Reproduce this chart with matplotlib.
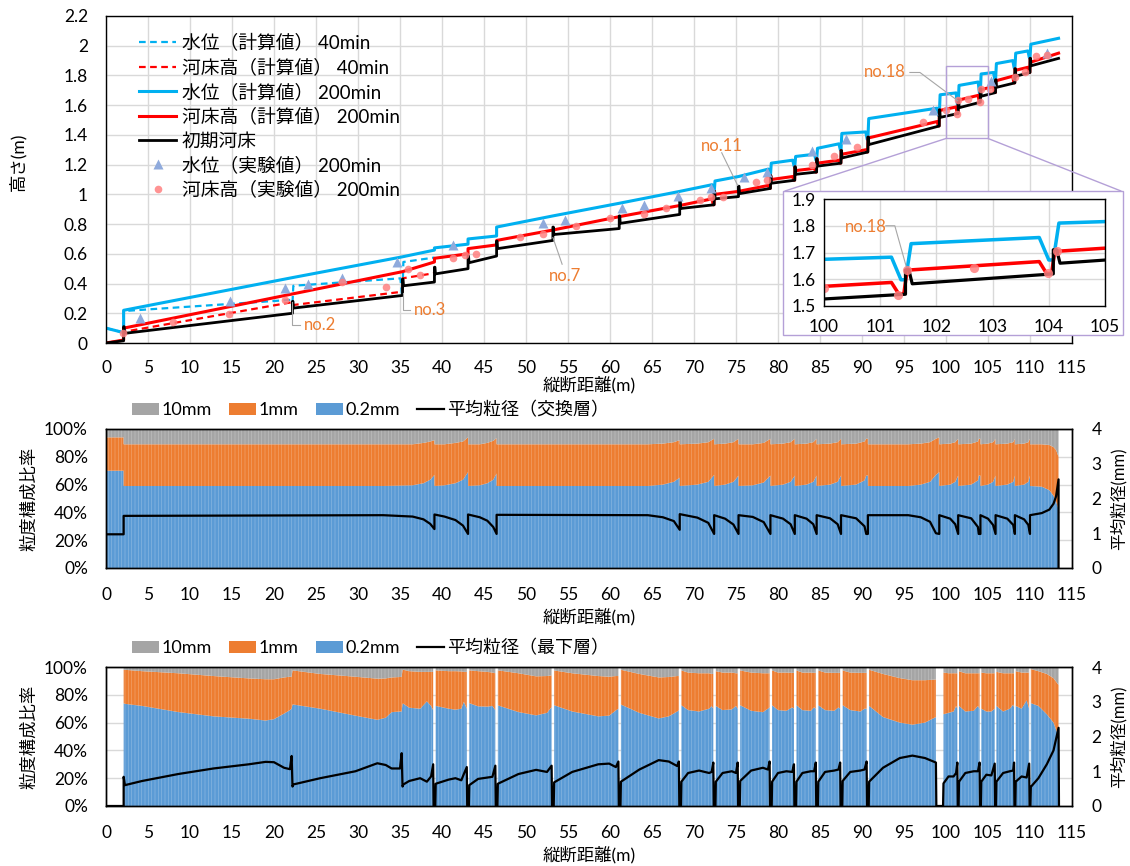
import numpy as np
import matplotlib
matplotlib.use("Agg")
import matplotlib.pyplot as plt
from matplotlib.patches import Rectangle, Patch, ConnectionPatch
from matplotlib.lines import Line2D
from matplotlib.ticker import FuncFormatter, PercentFormatter, MultipleLocator

plt.rcParams['font.family'] = ['Lato', 'Noto Sans CJK JP', 'DejaVu Sans']
plt.rcParams['hatch.linewidth'] = 0.5

NaN = np.nan

# ---------------------------------------------------------------- profile data
# drop structures (weirs) along the flume [m]
weir_x = [2.1, 22.2, 35.3, 39.1, 43.1, 46.5, 53.2, 61.1, 68.3, 72.4, 75.3,
          79.1, 82.0, 84.6, 87.5, 90.7, 99.2, 101.45, 104.08, 105.9, 108.2, 110.0]
flume_end = 113.4

# initial bed: level at start / end of each pool, crest of each weir [m]
bed0_start = [0.00, 0.065, 0.235, 0.385, 0.465, 0.54, 0.635, 0.73, 0.805, 0.905, 0.97,
              1.005, 1.075, 1.135, 1.19, 1.245, 1.335, 1.518, 1.583, 1.66, 1.72, 1.795, 1.865]
bed0_end = [0.015, 0.20, 0.32, 0.41, 0.50, 0.585, 0.69, 0.77, 0.865, 0.93, 0.985,
            1.04, 1.095, 1.15, 1.21, 1.285, 1.46, 1.544, 1.62, 1.685, 1.75, 1.82, 1.915]
bed0_crest = [0.11, 0.28, 0.43, 0.51, 0.585, 0.685, 0.78, 0.855, 0.955, 1.02, 1.055,
              1.125, 1.185, 1.24, 1.295, 1.385, 1.568, 1.635, 1.71, 1.77, 1.845, 1.915]

# computed bed, 200 min
bed200_start = [0.00, 0.10, 0.33, 0.48, 0.57, 0.635, 0.69, 0.76, 0.85, 0.925, 1.00,
                1.02, 1.10, 1.16, 1.21, 1.27, 1.38, 1.565, 1.635, 1.705, 1.765, 1.835, 1.89]
bed200_end = [0.02, 0.33, 0.48, 0.545, 0.60, 0.66, 0.76, 0.85, 0.925, 0.97, 1.02,
              1.06, 1.12, 1.175, 1.23, 1.30, 1.49, 1.588, 1.666, 1.725, 1.795, 1.855, 1.95]
bed200_scour = [None, None, None, None, None, None, None, None, None, 0.93, None,
                1.04, 1.095, 1.15, 1.21, 1.285, 1.46, 1.545, 1.622, 1.685, 1.75, 1.82]

# computed water level, 200 min
wl200_start = [0.10, 0.22, 0.44, 0.58, 0.64, 0.70, 0.78, 0.855, 0.94, 1.02, 1.09,
               1.12, 1.21, 1.255, 1.31, 1.41, 1.51, 1.67, 1.733, 1.81, 1.88, 1.95, 2.01]
wl200_end = [0.07, 0.44, 0.58, 0.625, 0.665, 0.72, 0.855, 0.94, 1.02, 1.065, 1.12,
             1.17, 1.23, 1.27, 1.34, 1.42, 1.58, 1.6825, 1.756, 1.82, 1.90, 1.965, 2.05]
wl200_dip = [None, None, None, None, None, None, None, None, None, 1.01, None,
             1.13, 1.19, 1.23, 1.30, 1.37, 1.53, 1.598, 1.672, 1.77, 1.85, 1.92]

# computed water level and bed, 40 min (downstream reach)
wl40_start = [0.10, 0.215, 0.385, 0.545]
wl40_end = [0.07, 0.29, 0.435, 0.575]
wl40_dip = [None, 0.27, 0.335]
bed40_start = [0.00, 0.075, 0.255, 0.435]
bed40_end = [0.02, 0.275, 0.345, 0.47]

# measured, 200 min
obs_wl_x = [4.0, 14.8, 21.3, 24.1, 28.1, 34.6, 41.3, 52.0, 54.6, 61.4, 64.0, 68.1,
            72.0, 76.0, 78.7, 84.0, 88.1, 98.5, 105.4, 112.0]
obs_wl = [0.17, 0.28, 0.37, 0.40, 0.44, 0.545, 0.66, 0.81, 0.825, 0.91, 0.93, 0.99,
          1.04, 1.12, 1.15, 1.295, 1.375, 1.57, 1.765, 1.95]
obs_bed_x = [2.0, 8.0, 14.7, 21.3, 28.1, 33.3, 35.9, 37.4, 41.3, 42.7, 44.1, 49.3,
             52.0, 56.0, 60.0, 64.0, 66.7, 70.7, 72.0, 73.4, 77.4, 78.7, 84.0, 86.7,
             89.4, 97.3, 100.0, 101.32, 101.48, 102.67, 103.99, 104.14, 105.2, 108.2,
             109.4, 110.7, 112.0]
obs_bed = [0.065, 0.14, 0.195, 0.29, 0.41, 0.38, 0.495, 0.46, 0.57, 0.59, 0.60, 0.71,
           0.735, 0.79, 0.84, 0.87, 0.905, 0.965, 0.985, 0.98, 1.08, 1.095, 1.195, 1.26,
           1.32, 1.485, 1.566, 1.541, 1.635, 1.641, 1.622, 1.707, 1.71, 1.79,
           1.82, 1.93, 1.94]

# ------------------------------------------------ grain size, exchange layer
ex_x = ([0.0, 0.0, 2.1]
        + [2.1, 33.0, 36.5, 37.8, 38.6, 39.1]
        + [39.1, 40.3, 41.6, 42.5, 43.1]
        + [43.1, 44.5, 45.4, 46.1, 46.5]
        + [46.5, 64.5, 66.3, 67.6, 68.3]
        + [68.3, 70.4, 71.7, 72.4]
        + [72.4, 73.7, 74.7, 75.3]
        + [75.3, 77.0, 78.3, 79.1]
        + [79.1, 80.6, 81.5, 82.0]
        + [82.0, 83.4, 84.2, 84.6]
        + [84.6, 86.2, 87.1, 87.5]
        + [87.5, 89.3, 90.3, 90.5, 90.7]
        + [90.7, 95.5, 97.0, 98.1, 98.8, 99.2]
        + [99.2, 100.5, 101.1, 101.45]
        + [101.45, 103.0, 103.8, 103.9, 104.1]
        + [104.1, 105.0, 105.6, 105.9]
        + [105.9, 107.3, 108.0, 108.2]
        + [108.2, 109.3, 109.8, 110.0]
        + [110.0, 111.4, 112.3, 112.8, 113.1, 113.4, 113.4])
# cumulative share: 0.2 mm
ex_fine = ([0.70, 0.70, 0.70]
           + [0.59, 0.59, 0.595, 0.61, 0.635, 0.67]
           + [0.59, 0.595, 0.61, 0.635, 0.69]
           + [0.59, 0.595, 0.61, 0.635, 0.68]
           + [0.59, 0.59, 0.60, 0.62, 0.65]
           + [0.59, 0.60, 0.62, 0.67]
           + [0.59, 0.60, 0.62, 0.665]
           + [0.59, 0.595, 0.615, 0.665]
           + [0.59, 0.60, 0.62, 0.665]
           + [0.59, 0.60, 0.62, 0.665]
           + [0.59, 0.60, 0.62, 0.665]
           + [0.59, 0.60, 0.63, 0.665, 0.665]
           + [0.59, 0.59, 0.60, 0.62, 0.67, 0.69]
           + [0.59, 0.60, 0.62, 0.665]
           + [0.59, 0.60, 0.63, 0.665, 0.665]
           + [0.59, 0.60, 0.62, 0.665]
           + [0.59, 0.60, 0.62, 0.665]
           + [0.59, 0.60, 0.62, 0.665]
           + [0.59, 0.585, 0.56, 0.52, 0.48, 0.42, 0.42])
# cumulative share: 0.2 mm + 1 mm
ex_mid = ([0.94, 0.94, 0.94]
          + [0.89, 0.89, 0.89, 0.90, 0.91, 0.92]
          + [0.89, 0.89, 0.90, 0.91, 0.94]
          + [0.89, 0.89, 0.90, 0.915, 0.935]
          + [0.89, 0.89, 0.895, 0.905, 0.92]
          + [0.89, 0.895, 0.905, 0.93]
          + [0.89, 0.895, 0.905, 0.93]
          + [0.89, 0.89, 0.90, 0.93]
          + [0.89, 0.895, 0.905, 0.93]
          + [0.89, 0.895, 0.905, 0.93]
          + [0.89, 0.895, 0.905, 0.93]
          + [0.89, 0.895, 0.91, 0.93, 0.93]
          + [0.89, 0.89, 0.895, 0.905, 0.93, 0.94]
          + [0.89, 0.895, 0.905, 0.93]
          + [0.89, 0.895, 0.91, 0.93, 0.93]
          + [0.89, 0.895, 0.905, 0.93]
          + [0.89, 0.895, 0.905, 0.93]
          + [0.89, 0.895, 0.905, 0.93]
          + [0.89, 0.89, 0.885, 0.87, 0.85, 0.80, 0.80])
# mean diameter [mm]
ex_dm = ([0.0, 0.97, 0.97]
         + [1.50, 1.52, 1.48, 1.40, 1.27, 1.12]
         + [1.54, 1.48, 1.38, 1.22, 0.98]
         + [1.54, 1.46, 1.36, 1.18, 0.98]
         + [1.53, 1.52, 1.46, 1.35, 1.10]
         + [1.55, 1.45, 1.30, 0.98]
         + [1.52, 1.42, 1.25, 0.98]
         + [1.52, 1.47, 1.32, 0.98]
         + [1.52, 1.42, 1.26, 0.98]
         + [1.52, 1.42, 1.26, 0.98]
         + [1.52, 1.43, 1.26, 0.98]
         + [1.52, 1.43, 1.20, 0.98, 0.98]
         + [1.52, 1.52, 1.46, 1.33, 1.00, 0.98]
         + [1.52, 1.42, 1.26, 0.98]
         + [1.52, 1.43, 1.18, 0.98, 0.98]
         + [1.52, 1.42, 1.24, 0.98]
         + [1.52, 1.42, 1.24, 0.98]
         + [1.52, 1.40, 1.24, 0.98]
         + [1.52, 1.58, 1.68, 1.85, 2.06, 2.55, 0.0])

# --------------------------------------------------- grain size, bottom layer
lo_x = ([0.0, 2.1]
        + [2.1, 2.25, 4.3, 8.6, 12.8, 17.0, 19.0, 20.0, 21.2, 21.9, 22.1]
        + [22.2, 22.3, 25.5, 29.7, 32.3, 33.3, 34.0, 35.0, 35.2]
        + [35.3, 35.4, 36.1, 37.4, 38.2, 38.7, 38.95] + [39.0, 39.2]
        + [39.25, 40.8, 41.6, 42.3, 42.6, 42.95] + [43.0, 43.2]
        + [43.25, 44.3, 45.4, 46.0, 46.35] + [46.4, 46.6]
        + [46.65, 49.1, 51.2, 52.5, 53.05] + [53.1, 53.3]
        + [53.35, 55.5, 58.6, 59.9, 60.7, 61.0] + [61.05, 61.25]
        + [61.3, 63.5, 65.8, 67.0, 68.0, 68.2] + [68.25, 68.45]
        + [68.5, 69.3, 70.6, 71.8, 72.1, 72.3] + [72.35, 72.55]
        + [72.6, 73.4, 74.5, 75.0, 75.2] + [75.25, 75.45]
        + [75.5, 76.8, 78.2, 78.8, 79.0] + [79.05, 79.25]
        + [79.3, 80.0, 81.0, 81.7, 81.9] + [81.95, 82.15]
        + [82.2, 82.9, 83.9, 84.3, 84.5] + [84.55, 84.75]
        + [84.8, 85.6, 86.7, 87.2, 87.4] + [87.45, 87.65]
        + [87.7, 88.6, 89.8, 90.3, 90.55] + [90.6, 90.8]
        + [90.85, 92.5, 94.5, 96.0, 97.5, 98.8] + [98.85, 99.65]
        + [99.7, 100.3, 100.9, 101.2, 101.35] + [101.4, 101.5]
        + [101.55, 102.3, 103.3, 103.8, 104.0] + [104.05, 104.15]
        + [104.2, 104.8, 105.4, 105.8] + [105.85, 105.95]
        + [106.0, 106.8, 107.6, 108.0, 108.1] + [108.15, 108.25]
        + [108.3, 109.0, 109.6, 109.9] + [109.95, 110.05]
        + [110.1, 111.0, 112.0, 112.8, 113.4] + [113.45])
lo_fine = ([NaN, NaN]
           + [0.74, 0.735, 0.72, 0.676, 0.645, 0.628, 0.615, 0.625, 0.665, 0.69, 0.70]
           + [0.73, 0.73, 0.70, 0.65, 0.62, 0.635, 0.675, 0.68, 0.68]
           + [0.736, 0.736, 0.707, 0.70, 0.753, 0.72, 0.69] + [NaN, NaN]
           + [0.72, 0.70, 0.693, 0.70, 0.75, 0.70] + [NaN, NaN]
           + [0.74, 0.717, 0.715, 0.72, 0.69] + [NaN, NaN]
           + [0.724, 0.676, 0.652, 0.67, 0.712] + [NaN, NaN]
           + [0.725, 0.68, 0.645, 0.65, 0.688, 0.70] + [NaN, NaN]
           + [0.73, 0.67, 0.63, 0.645, 0.68, 0.69] + [NaN, NaN]
           + [0.725, 0.69, 0.68, 0.70, 0.72, 0.70] + [NaN, NaN]
           + [0.72, 0.69, 0.695, 0.72, 0.70] + [NaN, NaN]
           + [0.725, 0.685, 0.675, 0.70, 0.71] + [NaN, NaN]
           + [0.725, 0.69, 0.685, 0.71, 0.70] + [NaN, NaN]
           + [0.725, 0.69, 0.685, 0.71, 0.70] + [NaN, NaN]
           + [0.725, 0.69, 0.685, 0.71, 0.70] + [NaN, NaN]
           + [0.725, 0.69, 0.68, 0.70, 0.70] + [NaN, NaN]
           + [0.72, 0.64, 0.60, 0.585, 0.60, 0.64] + [NaN, NaN]
           + [0.66, 0.67, 0.68, 0.72, 0.70] + [NaN, NaN]
           + [0.72, 0.68, 0.685, 0.72, 0.70] + [NaN, NaN]
           + [0.70, 0.68, 0.68, 0.70] + [NaN, NaN]
           + [0.72, 0.68, 0.70, 0.73, 0.71] + [NaN, NaN]
           + [0.72, 0.70, 0.76, 0.70] + [NaN, NaN]
           + [0.74, 0.72, 0.66, 0.60, 0.50] + [NaN])
lo_mid = ([NaN, NaN]
          + [0.98, 0.98, 0.97, 0.955, 0.935, 0.918, 0.912, 0.912, 0.925, 0.93, 0.93]
          + [0.976, 0.975, 0.95, 0.93, 0.916, 0.918, 0.925, 0.928, 0.93]
          + [0.98, 0.98, 0.97, 0.965, 0.965, 0.965, 0.965] + [NaN, NaN]
          + [0.976, 0.97, 0.97, 0.968, 0.965, 0.965] + [NaN, NaN]
          + [0.976, 0.97, 0.965, 0.96, 0.955] + [NaN, NaN]
          + [0.976, 0.955, 0.933, 0.935, 0.94] + [NaN, NaN]
          + [0.975, 0.955, 0.935, 0.93, 0.935, 0.935] + [NaN, NaN]
          + [0.98, 0.95, 0.925, 0.928, 0.935, 0.935] + [NaN, NaN]
          + [0.975, 0.96, 0.955, 0.955, 0.95, 0.95] + [NaN, NaN]
          + [0.97, 0.96, 0.96, 0.955, 0.955] + [NaN, NaN]
          + [0.975, 0.96, 0.955, 0.955, 0.955] + [NaN, NaN]
          + [0.975, 0.96, 0.96, 0.958, 0.958] + [NaN, NaN]
          + [0.975, 0.96, 0.96, 0.958, 0.958] + [NaN, NaN]
          + [0.975, 0.96, 0.958, 0.958, 0.958] + [NaN, NaN]
          + [0.975, 0.96, 0.958, 0.958, 0.958] + [NaN, NaN]
          + [0.98, 0.95, 0.92, 0.905, 0.905, 0.91] + [NaN, NaN]
          + [0.96, 0.955, 0.955, 0.955, 0.955] + [NaN, NaN]
          + [0.97, 0.955, 0.955, 0.955, 0.955] + [NaN, NaN]
          + [0.96, 0.955, 0.955, 0.955] + [NaN, NaN]
          + [0.965, 0.955, 0.955, 0.955, 0.955] + [NaN, NaN]
          + [0.97, 0.96, 0.96, 0.96] + [NaN, NaN]
          + [0.985, 0.97, 0.95, 0.92, 0.87] + [NaN])
lo_dm = ([0.0, 0.0]
         + [0.84, 0.60, 0.72, 0.92, 1.08, 1.20, 1.27, 1.26, 1.10, 1.06, 1.44]
         + [0.56, 0.62, 0.80, 1.00, 1.23, 1.18, 1.08, 1.08, 1.52]
         + [0.56, 0.62, 0.72, 0.80, 0.70, 0.85, 1.20] + [0.0, 0.0]
         + [0.64, 0.76, 0.80, 0.74, 0.92, 1.12] + [0.0, 0.0]
         + [0.60, 0.78, 0.82, 0.84, 1.16] + [0.0, 0.0]
         + [0.64, 0.92, 1.04, 0.98, 1.16] + [0.0, 0.0]
         + [0.68, 0.98, 1.20, 1.22, 1.12, 1.28] + [0.0, 0.0]
         + [0.70, 1.05, 1.32, 1.28, 1.15, 1.28] + [0.0, 0.0]
         + [0.70, 0.95, 1.02, 0.95, 0.98, 1.25] + [0.0, 0.0]
         + [0.70, 0.95, 1.00, 0.95, 1.25] + [0.0, 0.0]
         + [0.72, 1.02, 1.10, 1.05, 1.28] + [0.0, 0.0]
         + [0.70, 0.95, 1.00, 0.98, 1.20] + [0.0, 0.0]
         + [0.70, 0.95, 1.00, 1.00, 1.25] + [0.0, 0.0]
         + [0.70, 0.98, 1.02, 1.05, 1.25] + [0.0, 0.0]
         + [0.72, 0.98, 1.02, 1.05, 1.28] + [0.0, 0.0]
         + [0.70, 1.10, 1.38, 1.45, 1.38, 1.25] + [0.0, 0.0]
         + [0.65, 0.85, 0.85, 0.95, 1.25] + [0.0, 0.0]
         + [0.70, 0.95, 1.00, 1.00, 1.25] + [0.0, 0.0]
         + [0.70, 0.90, 0.88, 1.22] + [0.0, 0.0]
         + [0.70, 0.95, 1.00, 1.02, 1.25] + [0.0, 0.0]
         + [0.70, 0.85, 0.82, 1.22] + [0.0, 0.0]
         + [0.55, 0.80, 1.20, 1.60, 2.25] + [0.0])

# ---------------------------------------------------------------- styling
C_WL = '#00B0F0'
C_BED = '#FF0000'
C_OBS_WL = '#8FAADC'
C_OBS_BED = '#FF8080'
C_NOTE = '#ED7D31'
C_LEAD = '#A6A6A6'
C_GRID = '#D9D9D9'
C_BOX = '#B4A0D7'
C_FINE = '#5B9BD5'
C_MID = '#ED7D31'
C_COARSE = '#A5A5A5'
TICK_FS = 12.5
LABEL_FS = 12.5


def profile(starts, ends, trans):
    """Polyline of a longitudinal profile split into pools by the weirs."""
    n = len(starts)
    edges = ([0.0] + weir_x + [flume_end])[:n + 1]
    xs, ys = [], []
    x0 = edges[0]
    for k in range(n):
        b = edges[k + 1]
        t = trans[k] if k < n - 1 else None
        end_off, pts, start_off = t if t is not None else (0.0, [], 0.0)
        xs += [x0, b - end_off]
        ys += [starts[k], ends[k]]
        for dx, y in pts:
            xs.append(b + dx)
            ys.append(y)
        x0 = b + start_off
    return xs, ys


def bed_trans(crest):
    return [(0.0, [(0.0, c), (0.06, c)], 0.12) for c in crest]


def scour_trans(scour, crest):
    return [None if d is None else (0.25, [(-0.12, d), (-0.03, d), (0.03, c)], 0.10)
            for d, c in zip(scour, crest)]


def dip_trans(dips):
    return [None if d is None else (0.25, [(-0.08, d), (0.0, d)], 0.10) for d in dips]


wl40 = profile(wl40_start, wl40_end, dip_trans(wl40_dip))
bed40 = profile(bed40_start, bed40_end, [None] * 3)
wl200 = profile(wl200_start, wl200_end, dip_trans(wl200_dip))
bed200 = profile(bed200_start, bed200_end, scour_trans(bed200_scour, bed0_crest))
bed0 = profile(bed0_start, bed0_end, bed_trans(bed0_crest))


def draw_profiles(a, lw_scale=1.0, ms_scale=1.0):
    a.plot(*wl40, color=C_WL, lw=1.6 * lw_scale, ls=(0, (3, 2)), label='水位（計算値） 40min')
    a.plot(*bed40, color=C_BED, lw=1.6 * lw_scale, ls=(0, (3, 2)), label='河床高（計算値） 40min')
    a.plot(*wl200, color=C_WL, lw=2.2 * lw_scale, label='水位（計算値） 200min')
    a.plot(*bed200, color=C_BED, lw=2.2 * lw_scale, label='河床高（計算値） 200min')
    a.plot(*bed0, color='black', lw=2.0 * lw_scale, label='初期河床')
    a.plot(obs_wl_x, obs_wl, ls='none', marker='^', ms=7 * ms_scale, color=C_OBS_WL,
           mec='none', label='水位（実験値） 200min')
    a.plot(obs_bed_x, obs_bed, ls='none', marker='o', ms=5.5 * ms_scale, color=C_OBS_BED,
           mec='none', alpha=0.85, label='河床高（実験値） 200min')


W, H = 1130, 866
fig = plt.figure(figsize=(W / 100, H / 100), dpi=100)


def fig_rect(left, top, right, bottom):
    return [left / W, 1 - bottom / H, (right - left) / W, (bottom - top) / H]


# ------------------------------------------------------------- longitudinal profile
ax = fig.add_axes(fig_rect(106, 16, 1072, 343))
draw_profiles(ax)
ax.set_xlim(0, 115)
ax.set_ylim(0, 2.2)
ax.xaxis.set_major_locator(MultipleLocator(5))
ax.yaxis.set_major_locator(MultipleLocator(0.2))
ax.yaxis.set_major_formatter(FuncFormatter(lambda v, p: f'{v:g}'))
ax.grid(True, color=C_GRID, lw=1.0)
ax.set_axisbelow(True)
ax.tick_params(length=0, labelsize=TICK_FS)
ax.tick_params(axis='y', pad=13)
ax.tick_params(axis='x', pad=12)
for s in ax.spines.values():
    s.set_color('black')
    s.set_linewidth(1.0)
ax.set_xlabel('縦断距離(m)', fontsize=LABEL_FS)
ax.xaxis.set_label_coords(0.5, -(376 - 343) / 327)
ax.set_ylabel('高さ(m)', fontsize=LABEL_FS)
ax.yaxis.set_label_coords(-0.082, 0.553)
ax.legend(loc='upper left', bbox_to_anchor=((130 - 106) / 966, (343 - 24) / 327),
          frameon=False, fontsize=13.5, handlelength=1.95, handletextpad=0.3,
          labelspacing=0.36, borderpad=0, numpoints=1)

# weir labels
leaders = {
    'no.2': ([22.2, 22.2, 23.1], [0.275, 0.12, 0.12], (23.5, 0.12, 'left')),
    'no.3': ([35.3, 35.3, 36.2], [0.335, 0.225, 0.225], (36.6, 0.225, 'left')),
    'no.7': ([53.2, 54.3], [0.71, 0.53], (54.6, 0.45, 'center')),
    'no.11': ([73.3, 75.2], [1.28, 1.06], (73.3, 1.325, 'center')),
    'no.18': ([95.7, 96.9, 101.4], [1.82, 1.82, 1.63], (95.2, 1.82, 'right')),
}
for name, (lx, ly, (tx, ty, ha)) in leaders.items():
    ax.plot(lx, ly, color=C_LEAD, lw=0.8, zorder=6)
    ax.text(tx, ty, name, color=C_NOTE, fontsize=12, ha=ha, va='center', zorder=7)

# zoom window and inset
ax.add_patch(Rectangle((100, 1.376), 5, 0.49, fill=False, ec=C_BOX, lw=1.0, zorder=8))
box = Rectangle((783 / W, 1 - 335 / H), 340 / W, 144 / H, transform=fig.transFigure,
                facecolor='white', edgecolor=C_BOX, lw=1.0, zorder=3)
fig.add_artist(box)
for xa, xb in ((100, 785), (105, 1121)):
    con = ConnectionPatch(xyA=(xa, 1.376), coordsA=ax.transData,
                          xyB=(xb / W, 1 - 191 / H), coordsB=fig.transFigure,
                          color=C_BOX, lw=1.0)
    fig.add_artist(con)

axi = fig.add_axes(fig_rect(824, 199, 1105, 306))
axi.set_zorder(5)
draw_profiles(axi, lw_scale=1.15, ms_scale=1.2)
axi.set_xlim(100, 105)
axi.set_ylim(1.5, 1.9)
axi.xaxis.set_major_locator(MultipleLocator(1))
axi.yaxis.set_major_locator(MultipleLocator(0.1))
axi.yaxis.set_major_formatter(FuncFormatter(lambda v, p: f'{v:.1f}'))
axi.grid(True, color=C_GRID, lw=1.0)
axi.set_axisbelow(True)
axi.tick_params(length=0, labelsize=12.5, pad=6)
axi.tick_params(axis='x', pad=9)
for s in axi.spines.values():
    s.set_color('black')
    s.set_linewidth(1.0)
axi.plot([101.1, 101.26, 101.46], [1.80, 1.80, 1.65], color=C_LEAD, lw=0.8, zorder=6)
axi.text(100.75, 1.795, 'no.18', color=C_NOTE, fontsize=12, ha='center', va='center')


# ------------------------------------------------------------- grain size panels
def grain_panel(top, bottom, xs, fine, mid, dm, line_label):
    axg = fig.add_axes(fig_rect(106, top, 1072, bottom))
    x = np.asarray(xs, float)
    f = np.asarray(fine, float)
    m = np.asarray(mid, float)
    full = np.where(np.isnan(f), np.nan, 1.0)
    stripe = dict(hatch='|||||', edgecolor=(1, 1, 1, 0.28), linewidth=0)
    axg.fill_between(x, 0, f, facecolor=C_FINE, **stripe)
    axg.fill_between(x, f, m, facecolor=C_MID, **stripe)
    axg.fill_between(x, m, full, facecolor=C_COARSE, **stripe)
    axg.set_xlim(0, 115)
    axg.set_ylim(0, 1)
    axg.xaxis.set_major_locator(MultipleLocator(5))
    axg.yaxis.set_major_locator(MultipleLocator(0.2))
    axg.yaxis.set_major_formatter(PercentFormatter(1.0, decimals=0))
    axg.yaxis.grid(True, color=C_GRID, lw=1.0)
    axg.set_axisbelow(True)
    axg.tick_params(length=0, labelsize=TICK_FS)
    axg.tick_params(axis='y', pad=13)
    axg.tick_params(axis='x', pad=14)
    axg.set_xlabel('縦断距離(m)', fontsize=LABEL_FS)
    axg.xaxis.set_label_coords(0.5, -0.29)
    axg.set_ylabel('粒度構成比率', fontsize=LABEL_FS)
    axg.yaxis.set_label_coords(-0.0714, 0.5)

    axr = axg.twinx()
    axr.plot(x, dm, color='black', lw=1.6)
    axr.set_ylim(0, 4)
    axr.yaxis.set_major_locator(MultipleLocator(1))
    axr.tick_params(length=0, labelsize=TICK_FS, pad=14)
    axr.set_ylabel('平均粒径(mm)', fontsize=12)
    axr.yaxis.set_label_coords(1.039, 0.5)
    for a in (axg, axr):
        for s in a.spines.values():
            s.set_color('black')
            s.set_linewidth(1.0)

    handles = [Patch(facecolor=C_COARSE), Patch(facecolor=C_MID), Patch(facecolor=C_FINE),
               Line2D([], [], color='black', lw=1.6)]
    labels = ['10mm', '1mm', '0.2mm', line_label]
    axg.legend(handles, labels, ncol=4, loc='lower left',
               bbox_to_anchor=((121 - 106) / 966, 1.0), frameon=False, fontsize=13,
               handlelength=1.5, handleheight=0.7, handletextpad=0.15,
               columnspacing=0.95, borderpad=0.1)
    return axg


grain_panel(429, 568, ex_x, ex_fine, ex_mid, ex_dm, '平均粒径（交換層）')
grain_panel(667, 806, lo_x, lo_fine, lo_mid, lo_dm, '平均粒径（最下層）')

fig.savefig('out.png', dpi=100)
